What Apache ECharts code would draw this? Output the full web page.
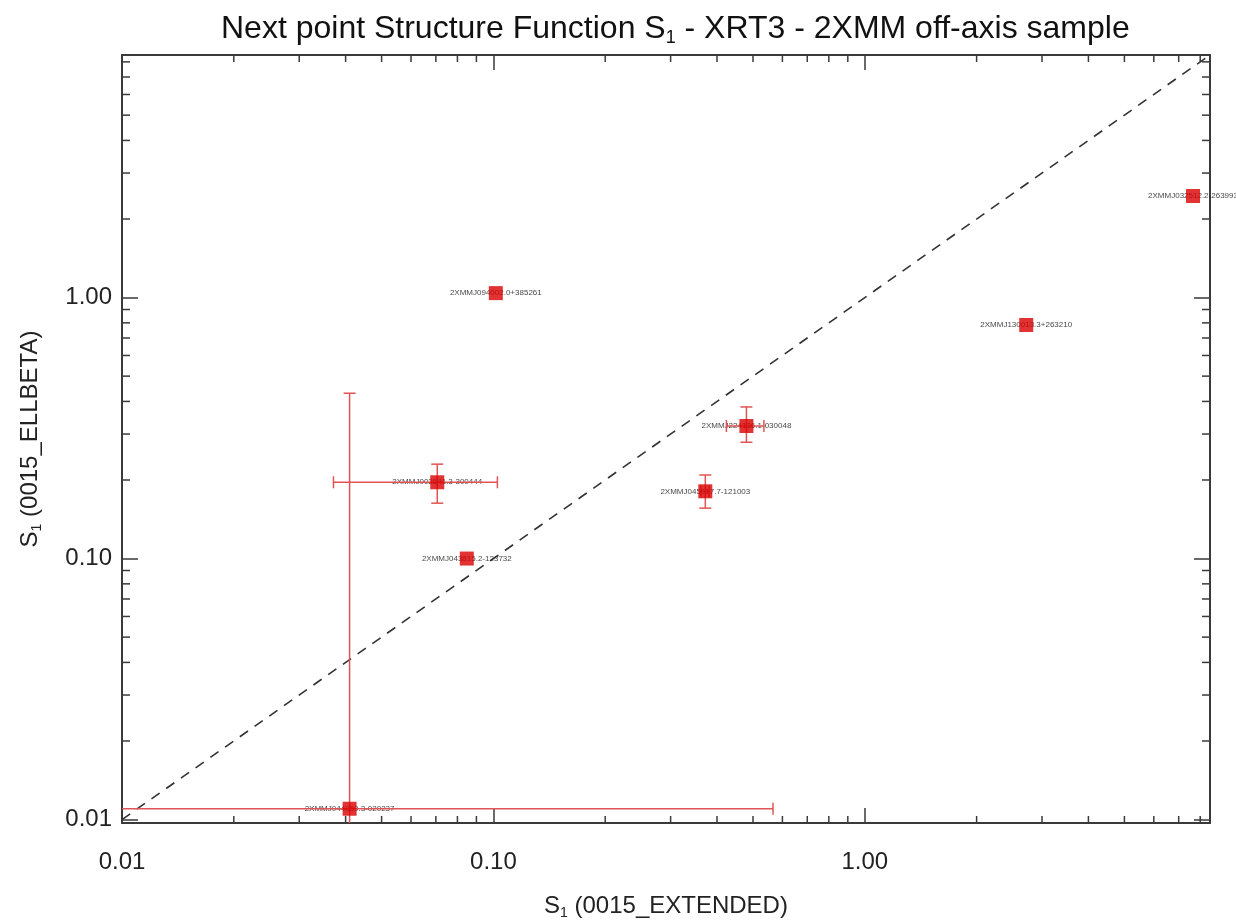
<!DOCTYPE html>
<html>
<head>
<meta charset="utf-8">
<script src="https://cdn.jsdelivr.net/npm/echarts@6/dist/echarts.min.js"></script>
<style>
  html, body { margin: 0; padding: 0; background: #fff; }
  #chart { width: 1236px; height: 922px; }
</style>
</head>
<body>
<div id="chart"></div>
<script>
// ---- data ----
const pointNames = [
  '2XMMJ044059.3-020237',
  '2XMMJ094002.0+385261',
  '2XMMJ032512.2-263993',
  '2XMMJ130013.3+263210',
  '2XMMJ224136.1-030048',
  '2XMMJ045017.7-121003',
  '2XMMJ002541.3-300444',
  '2XMMJ043815.2-123732'
];
const xVals    = [0.041, 0.1015, 7.65, 2.72, 0.48, 0.372, 0.0706, 0.0848];
const yVals    = [0.0110, 1.04, 2.45, 0.785, 0.322, 0.181, 0.196, 0.100];
const xErrLow  = [0.002, 0.1015, 7.65, 2.72, 0.424, 0.362, 0.0371, 0.0848];
const xErrHigh = [0.566, 0.1015, 7.65, 2.72, 0.535, 0.381, 0.1025, 0.0848];
const yErrLow  = [0.002, 1.04, 2.45, 0.785, 0.279, 0.156, 0.163, 0.100];
const yErrHigh = [0.43, 1.04, 2.45, 0.785, 0.381, 0.209, 0.230, 0.100];
const diagonal = [0.01, 8.5];           // y = x reference line
const minorTickValues = [0.02,0.03,0.04,0.05,0.06,0.07,0.08,0.09,
                         0.2,0.3,0.4,0.5,0.6,0.7,0.8,0.9,
                         2,3,4,5,6,7,8];

// ---- axis ranges ----
const X_MIN = 0.01, X_MAX = 8.5;
const Y_MIN = 0.0097, Y_MAX = 8.5;

const FONT = "'Liberation Sans', Arial, Helvetica, sans-serif";
const chart = echarts.init(document.getElementById('chart'), null, { renderer: 'canvas' });

function isDecade(v) {
  const l = Math.log10(v);
  return Math.abs(l - Math.round(l)) < 1e-6;
}
function fmt(v) { return isDecade(v) ? v.toFixed(2) : ''; }

const axisLineStyle = { color: '#3a3a3a', width: 2 };
const labelStyle = { fontFamily: FONT, fontSize: 24, color: '#222' };

function xAxisCfg(pos, withLabels) {
  return {
    type: 'log', logBase: 10, position: pos, min: X_MIN, max: X_MAX,
    axisLine: { show: true, onZero: false, lineStyle: axisLineStyle },
    axisTick: { show: true, inside: true, length: 15, lineStyle: { color: '#3a3a3a', width: 1.5 } },
    minorTick: { show: false },
    splitLine: { show: false },
    axisLabel: withLabels ? Object.assign({ show: true, margin: 27, formatter: fmt, showMaxLabel: false, showMinLabel: true }, labelStyle) : { show: false }
  };
}
function yAxisCfg(pos, withLabels) {
  return {
    type: 'log', logBase: 10, position: pos, min: Y_MIN, max: Y_MAX,
    axisLine: { show: true, onZero: false, lineStyle: axisLineStyle },
    axisTick: { show: true, inside: true, length: 16, lineStyle: { color: '#3a3a3a', width: 1.5 } },
    minorTick: { show: false },
    splitLine: { show: false },
    axisLabel: withLabels ? Object.assign({ show: true, margin: 10, formatter: fmt, showMaxLabel: false, showMinLabel: false }, labelStyle) : { show: false }
  };
}

const xBottom = xAxisCfg('bottom', true);
xBottom.name = 'S{sub|1} (0015_EXTENDED)';
xBottom.nameLocation = 'middle';
xBottom.nameGap = 69;
xBottom.nameTextStyle = {
  fontFamily: FONT, fontSize: 24, color: '#222', lineHeight: 28,
  rich: { sub: { fontFamily: FONT, fontSize: 14, color: '#222', lineHeight: 12, verticalAlign: 'bottom' } }
};
const yLeft = yAxisCfg('left', true);
yLeft.name = 'S{sub|1} (0015_ELLBETA)';
yLeft.nameLocation = 'middle';
yLeft.nameGap = 78;
yLeft.nameRotate = 90;
yLeft.nameTextStyle = {
  fontFamily: FONT, fontSize: 24, color: '#222', lineHeight: 28,
  rich: { sub: { fontFamily: FONT, fontSize: 14, color: '#222', lineHeight: 12, verticalAlign: 'bottom' } }
};

const errData = xVals.map((x, i) => [x, yVals[i], xErrLow[i], xErrHigh[i], yErrLow[i], yErrHigh[i]]);
const ERR_COLOR = '#e25454';

const option = {
  backgroundColor: '#fff',
  animation: false,
  title: {
    text: 'Next point Structure Function S{sub|1} - XRT3 - 2XMM off-axis sample',
    left: 216, top: 6,
    textStyle: {
      fontFamily: FONT, fontSize: 32, fontWeight: 'normal', color: '#111', lineHeight: 36,
      rich: { sub: { fontFamily: FONT, fontSize: 18, color: '#111', lineHeight: 18, verticalAlign: 'bottom' } }
    }
  },
  grid: { left: 122, right: 26, top: 55, bottom: 99, containLabel: false, outerBoundsMode: 'none' },
  xAxis: [ xBottom, xAxisCfg('top', false) ],
  yAxis: [ yLeft, yAxisCfg('right', false) ],
  series: [
    {
      name: 'diagonal', type: 'line', xAxisIndex: 0, yAxisIndex: 0,
      data: [[diagonal[0], diagonal[0]], [diagonal[1], diagonal[1]]],
      symbol: 'none', z: 1,
      lineStyle: { color: '#333', width: 1.6, type: [10, 8] }
    },
    {
      name: 'minorTicks', type: 'custom', xAxisIndex: 0, yAxisIndex: 0, z: 1,
      silent: true, clip: false,
      data: minorTickValues.map(v => [v, v]),
      renderItem: function (params, api) {
        const v = api.value(0);
        const bl = api.coord([X_MIN, Y_MIN]);
        const tr = api.coord([X_MAX, Y_MAX]);
        const st = { stroke: '#3a3a3a', lineWidth: 1.5 };
        const ch = [];
        if (v > X_MIN && v < X_MAX) {
          const x = api.coord([v, Y_MIN])[0];
          ch.push({ type: 'line', shape: { x1: x, y1: bl[1], x2: x, y2: bl[1] - 7 }, style: st });
          ch.push({ type: 'line', shape: { x1: x, y1: tr[1], x2: x, y2: tr[1] + 7 }, style: st });
        }
        if (v > Y_MIN && v < Y_MAX) {
          const y = api.coord([X_MIN, v])[1];
          ch.push({ type: 'line', shape: { x1: bl[0], y1: y, x2: bl[0] + 8, y2: y }, style: st });
          ch.push({ type: 'line', shape: { x1: tr[0], y1: y, x2: tr[0] - 8, y2: y }, style: st });
        }
        return { type: 'group', children: ch };
      }
    },
    {
      name: 'errors', type: 'custom', xAxisIndex: 0, yAxisIndex: 0, z: 3,
      clip: true, silent: true,
      data: errData,
      encode: { x: 0, y: 1 },
      renderItem: function (params, api) {
        const x = api.value(0), y = api.value(1);
        const xl = api.value(2), xh = api.value(3), yl = api.value(4), yh = api.value(5);
        const st = { stroke: ERR_COLOR, lineWidth: 1.5 };
        const cap = 6;
        const ch = [];
        if (xh > xl) {
          const a = api.coord([xl, y]), b = api.coord([xh, y]);
          ch.push({ type: 'line', shape: { x1: a[0], y1: a[1], x2: b[0], y2: b[1] }, style: st });
          ch.push({ type: 'line', shape: { x1: a[0], y1: a[1] - cap, x2: a[0], y2: a[1] + cap }, style: st });
          ch.push({ type: 'line', shape: { x1: b[0], y1: b[1] - cap, x2: b[0], y2: b[1] + cap }, style: st });
        }
        if (yh > yl) {
          const a = api.coord([x, yl]), b = api.coord([x, yh]);
          ch.push({ type: 'line', shape: { x1: a[0], y1: a[1], x2: b[0], y2: b[1] }, style: st });
          ch.push({ type: 'line', shape: { x1: a[0] - cap, y1: a[1], x2: a[0] + cap, y2: a[1] }, style: st });
          ch.push({ type: 'line', shape: { x1: b[0] - cap, y1: b[1], x2: b[0] + cap, y2: b[1] }, style: st });
        }
        return { type: 'group', children: ch };
      }
    },
    {
      name: 'labels', type: 'scatter', xAxisIndex: 0, yAxisIndex: 0, z: 2,
      symbol: 'rect', symbolSize: 2, silent: true,
      itemStyle: { color: 'rgba(0,0,0,0)' },
      data: xVals.map((x, i) => ({ value: [x, yVals[i]], name: pointNames[i] })),
      label: {
        show: true, position: 'inside', formatter: '{b}',
        fontFamily: FONT, fontSize: 8, color: '#111'
      },
      labelLayout: { hideOverlap: false }
    },
    {
      name: 'points', type: 'scatter', xAxisIndex: 0, yAxisIndex: 0, z: 5,
      symbol: 'rect', symbolSize: 14,
      itemStyle: { color: '#d90000' },
      data: xVals.map((x, i) => [x, yVals[i]])
    }
  ]
};
chart.setOption(option);
</script>
</body>
</html>
